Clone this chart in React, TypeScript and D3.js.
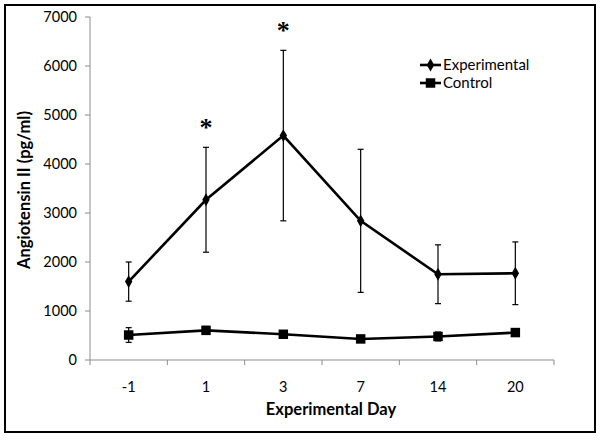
import React from "react";
import * as d3 from "d3";

const days = ["-1", "1", "3", "7", "14", "20"];
const experimental = [1600, 3270, 4580, 2840, 1750, 1770];
const experimentalErr = [400, 1070, 1740, 1460, 600, 640];
const control = [510, 605, 525, 430, 480, 560];
const controlErr = [150, 80, 60, 40, 90, 50];
const yTicks = [0, 1000, 2000, 3000, 4000, 5000, 6000, 7000];
const significant = ["1", "3"];

const W = 602, H = 440;
const FONT = "Lato, 'Open Sans', sans-serif";

export default function App() {
  const x = d3.scaleBand<string>().domain(days).range([90, 554]).padding(0);
  const y = d3.scaleLinear().domain([0, 7000]).range([360, 17]);
  const cx = (d: string) => (x(d) as number) + x.bandwidth() / 2;

  const line = d3.line<number>().x((_, i) => cx(days[i])).y((v) => y(v));
  const diamond = d3.symbol().type(d3.symbolDiamond).size(48)();
  const square = d3.symbol().type(d3.symbolSquare).size(90)();

  const boundaries = [...days.map((d) => x(d) as number), 554];

  const errBars = (vals: number[], errs: number[], key: string) =>
    vals.map((v, i) => {
      const px = cx(days[i]);
      const top = y(v + errs[i]);
      const bot = y(v - errs[i]);
      return (
        <g key={key + i} stroke="#000" strokeWidth={1.2}>
          <line x1={px} x2={px} y1={top} y2={bot} />
          <line x1={px - 3} x2={px + 3} y1={top} y2={top} />
          <line x1={px - 3} x2={px + 3} y1={bot} y2={bot} />
        </g>
      );
    });

  return (
    <svg width={W} height={H} style={{ position: "absolute", left: 0, top: 0, background: "#fff" }} fontFamily={FONT}>
      <rect x={0} y={0} width={W} height={H} fill="#fff" />
      <rect x={5} y={5} width={590} height={427} fill="none" stroke="#000" strokeWidth={2} />

      {/* y axis */}
      <line x1={90} x2={90} y1={y(7000)} y2={y(0)} stroke="#8c8c8c" strokeWidth={1} />
      {yTicks.map((t) => (
        <g key={t}>
          <line x1={85} x2={90} y1={y(t)} y2={y(t)} stroke="#8c8c8c" />
          <text x={77} y={y(t)} dy="0.35em" textAnchor="end" fontSize={14.5} fill="#000">
            {t}
          </text>
        </g>
      ))}

      {/* x axis */}
      <line x1={90} x2={554} y1={360} y2={360} stroke="#8c8c8c" strokeWidth={1} />
      {boundaries.map((b, i) => (
        <line key={i} x1={b} x2={b} y1={360} y2={365} stroke="#8c8c8c" />
      ))}
      {days.map((d) => (
        <text key={d} x={cx(d)} y={387} dy="0.35em" textAnchor="middle" fontSize={14.5} fill="#000">
          {d}
        </text>
      ))}

      <text x={331} y={415} textAnchor="middle" fontSize={16.5} fontWeight="bold">
        Experimental Day
      </text>
      <text transform="translate(30,190) rotate(-90)" textAnchor="middle" fontSize={16.5} fontWeight="bold">
        Angiotensin II (pg/ml)
      </text>

      {/* error bars */}
      {errBars(experimental, experimentalErr, "e")}
      {errBars(control, controlErr, "c")}

      {/* lines */}
      <path d={line(experimental) || ""} fill="none" stroke="#000" strokeWidth={2.6} />
      <path d={line(control) || ""} fill="none" stroke="#000" strokeWidth={2.6} />

      {experimental.map((v, i) => (
        <path key={"ed" + i} d={diamond || ""} transform={`translate(${cx(days[i])},${y(v)})`} fill="#000" />
      ))}
      {control.map((v, i) => (
        <path key={"cs" + i} d={square || ""} transform={`translate(${cx(days[i])},${y(v)})`} fill="#000" />
      ))}

      {/* significance */}
      {significant.map((d) => {
        const i = days.indexOf(d);
        return (
          <text key={"s" + d} x={cx(d)} y={y(experimental[i] + experimentalErr[i]) - 11} textAnchor="middle" fontSize={26} fontWeight="bold" fontFamily="'Liberation Serif', serif">
            *
          </text>
        );
      })}

      {/* legend */}
      <g>
        <line x1={420} x2={441} y1={65} y2={65} stroke="#000" strokeWidth={2.6} />
        <path d={diamond || ""} transform="translate(430.5,65)" fill="#000" />
        <text x={443} y={65} dy="0.35em" fontSize={15}>Experimental</text>
        <line x1={420} x2={441} y1={83} y2={83} stroke="#000" strokeWidth={2.6} />
        <path d={square || ""} transform="translate(430.5,83)" fill="#000" />
        <text x={443} y={83} dy="0.35em" fontSize={15}>Control</text>
      </g>
    </svg>
  );
}
